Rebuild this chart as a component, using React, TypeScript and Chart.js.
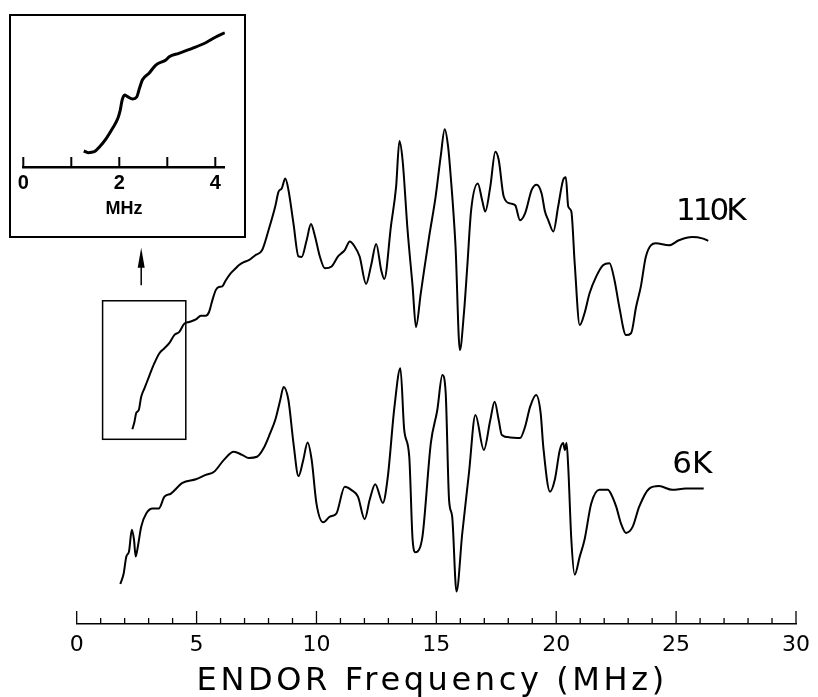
import React, { useEffect, useRef } from 'react';
import { Chart, registerables } from 'chart.js';

Chart.register(...registerables);

// ---- Main spectrum, 110 K (frequency in MHz, ENDOR signal in arb. units) ----
const FREQ_110K = [
  2.32, 2.41, 2.48, 2.59, 2.69, 2.83, 3.04, 3.24, 3.45, 3.66,
  3.86, 4.07, 4.28, 4.48, 4.69, 4.97, 5.18, 5.38, 5.52, 5.66,
  5.80, 5.93, 6.07, 6.22, 6.42, 6.63, 6.76, 6.97, 7.18, 7.45,
  7.73, 8.00, 8.28, 8.42, 8.55, 8.70, 8.83, 9.04, 9.25, 9.38,
  9.59, 9.77, 9.94, 10.14, 10.35, 10.63, 10.90, 11.04, 11.18, 11.39,
  11.59, 11.80, 12.07, 12.28, 12.49, 12.70, 12.83, 13.11, 13.32, 13.46,
  13.59, 13.80, 14.01, 14.15, 14.35, 14.49, 14.70, 14.97, 15.18, 15.35,
  15.49, 15.59, 15.80, 15.98, 16.15, 16.29, 16.45, 16.73, 16.91, 17.04,
  17.25, 17.46, 17.60, 17.81, 18.08, 18.29, 18.49, 18.70, 18.98, 19.18,
  19.39, 19.53, 19.67, 19.88, 20.08, 20.29, 20.40, 20.50, 20.63, 20.77,
  20.98, 21.18, 21.39, 21.67, 21.95, 22.22, 22.43, 22.63, 22.91, 23.12,
  23.33, 23.53, 23.74, 24.15, 24.70, 25.12, 25.67, 26.09, 26.34,
];
const SIG_110K = [
  31.2, 32.4, 33.8, 34.3, 36.4, 37.8, 39.9, 41.8, 43.4, 44.2,
  45.0, 46.3, 46.8, 48.1, 48.4, 48.8, 49.4, 49.4, 50.0, 51.9,
  53.5, 54.0, 54.1, 55.1, 56.2, 57.0, 57.5, 58.0, 58.3, 59.1,
  59.9, 63.1, 66.9, 69.3, 69.8, 71.4, 69.6, 64.2, 58.9, 58.8,
  61.5, 64.1, 62.1, 58.9, 57.0, 57.3, 58.9, 59.4, 59.9, 61.3,
  60.5, 58.9, 54.5, 57.5, 60.9, 56.7, 55.3, 63.9, 70.0, 77.4,
  74.4, 63.1, 54.1, 47.6, 53.0, 56.7, 62.1, 68.5, 74.9, 79.3,
  76.5, 72.2, 60.5, 43.9, 49.8, 57.3, 66.3, 70.6, 67.9, 66.1,
  70.1, 75.7, 74.4, 68.5, 67.4, 67.1, 64.7, 65.8, 69.6, 70.4,
  69.0, 66.1, 64.7, 62.9, 66.9, 71.2, 71.6, 66.9, 66.1, 57.8,
  47.9, 49.8, 53.0, 55.7, 57.5, 57.8, 55.1, 50.8, 46.3, 46.6,
  50.8, 54.1, 58.9, 61.0, 60.7, 61.5, 62.0, 61.8, 61.4,
];

// ---- Main spectrum, 6 K ----
const FREQ_6K = [
  1.82, 1.96, 2.07, 2.18, 2.30, 2.39, 2.46, 2.55, 2.69, 2.90,
  3.17, 3.42, 3.66, 3.93, 4.41, 4.97, 5.38, 5.73, 6.14, 6.55,
  6.90, 7.18, 7.52, 7.80, 8.07, 8.28, 8.49, 8.63, 8.83, 9.04,
  9.25, 9.45, 9.63, 9.80, 10.00, 10.28, 10.56, 10.83, 11.18, 11.45,
  11.73, 12.01, 12.22, 12.45, 12.77, 12.97, 13.25, 13.50, 13.66, 13.87,
  14.01, 14.13, 14.22, 14.42, 14.77, 15.04, 15.25, 15.39, 15.53, 15.66,
  15.84, 16.08, 16.36, 16.63, 16.98, 17.25, 17.43, 17.60, 17.73, 18.08,
  18.49, 18.70, 18.91, 19.16, 19.35, 19.46, 19.74, 19.94, 20.15, 20.29,
  20.36, 20.43, 20.50, 20.63, 20.77, 20.98, 21.18, 21.46, 21.80, 22.15,
  22.29, 22.50, 22.70, 22.91, 23.19, 23.46, 23.88, 24.29, 24.84, 25.40,
  26.15,
];
const SIG_6K = [
  6.4, 8.1, 10.8, 11.6, 15.1, 13.5, 10.8, 12.4, 15.6, 17.7,
  18.5, 18.5, 20.4, 20.9, 22.6, 23.2, 23.9, 24.4, 26.3, 27.6,
  27.1, 26.6, 26.8, 28.2, 30.6, 32.7, 35.9, 38.0, 35.9, 29.0,
  23.7, 26.3, 29.1, 26.3, 19.3, 16.3, 17.2, 17.7, 22.0, 21.5,
  20.4, 16.8, 19.9, 22.4, 19.4, 23.4, 34.7, 41.0, 31.1, 26.8,
  13.5, 11.5, 11.6, 14.0, 29.0, 34.3, 39.9, 37.0, 19.9, 17.2,
  5.2, 14.5, 24.2, 33.5, 27.9, 32.7, 35.6, 32.7, 30.3, 29.9,
  29.8, 31.6, 34.8, 36.7, 33.8, 28.4, 21.2, 23.1, 27.9, 29.0,
  27.9, 29.0, 25.2, 13.5, 7.9, 10.8, 13.5, 19.3, 21.5, 21.5,
  20.8, 18.8, 16.1, 14.6, 15.6, 18.8, 21.7, 22.1, 21.5, 21.7,
  21.7,
];

// ---- Inset: low-frequency part of the 110 K spectrum ----
const FREQ_INSET = [
  1.26, 1.35, 1.48, 1.59, 1.73, 1.86, 1.97, 2.02, 2.06, 2.11,
  2.17, 2.28, 2.36, 2.42, 2.48, 2.62, 2.76, 2.97, 3.04, 3.24,
  3.52, 3.80, 4.00, 4.20,
];
const SIG_INSET = [
  10.6, 9.5, 10.1, 13.4, 19.0, 25.6, 32.3, 37.7, 44.4, 47.7,
  46.6, 45.0, 46.2, 52.1, 57.6, 62.1, 67.5, 70.9, 73.0, 75.3,
  78.6, 82.3, 85.9, 88.9,
];

// ---- Axes / labels ----
const MAIN_TICKS = [
  0, 1, 2, 3, 4, 5, 6, 7, 8, 9, 10, 11, 12, 13, 14, 15,
  16, 17, 18, 19, 20, 21, 22, 23, 24, 25, 26, 27, 28, 29, 30,
];
const MAIN_TICK_LABELS = [0, 5, 10, 15, 20, 25, 30];
const INSET_TICKS = [0, 1, 2, 3, 4];
const INSET_TICK_LABELS = [0, 2, 4];
const SERIES_NAMES = ['110K', '6K'];
const X_TITLE = 'ENDOR Frequency (MHz)';
const INSET_TITLE = 'MHz';

// annotation anchors, in data units (MHz, arb. units)
const NAME_ANCHORS = [
  { x: 25.0, y: 64.7 },
  { x: 24.84, y: 24.2 },
];
const ZOOM_BOX = { x0: 1.08, x1: 4.55, y0: 29.6, y1: 51.8 };
const ARROW = { x: 2.69, y0: 54.3, y1: 60.3 };
const TITLE_SPAN = { x0: 5.0, x1: 24.5 };

const toPoints = (xs: number[], ys: number[]) => xs.map((x, i) => ({ x, y: ys[i] }));

const mainDecor = {
  id: 'mainDecor',
  afterDraw(chart: any) {
    const { ctx, scales } = chart;
    const x = scales.x;
    const y = scales.y;
    const base = chart.chartArea.bottom;
    ctx.save();
    ctx.strokeStyle = '#000';
    ctx.fillStyle = '#000';
    ctx.lineCap = 'butt';

    // tick marks pointing up from the axis line
    ctx.lineWidth = 1.3;
    MAIN_TICKS.forEach((v) => {
      const px = x.getPixelForValue(v);
      const len = MAIN_TICK_LABELS.includes(v) ? 13 : 6;
      ctx.beginPath();
      ctx.moveTo(px, base);
      ctx.lineTo(px, base - len);
      ctx.stroke();
    });

    // box marking the region enlarged in the inset
    ctx.lineWidth = 1.5;
    const bx0 = x.getPixelForValue(ZOOM_BOX.x0);
    const bx1 = x.getPixelForValue(ZOOM_BOX.x1);
    const by0 = y.getPixelForValue(ZOOM_BOX.y0);
    const by1 = y.getPixelForValue(ZOOM_BOX.y1);
    ctx.strokeRect(bx0, by1, bx1 - bx0, by0 - by1);

    // arrow up to the inset
    const ax = x.getPixelForValue(ARROW.x);
    const ay0 = y.getPixelForValue(ARROW.y0);
    const ay1 = y.getPixelForValue(ARROW.y1);
    ctx.lineWidth = 1.5;
    ctx.beginPath();
    ctx.moveTo(ax, ay0);
    ctx.lineTo(ax, ay1 + 12);
    ctx.stroke();
    ctx.beginPath();
    ctx.moveTo(ax, ay1);
    ctx.lineTo(ax - 3.5, ay1 + 20);
    ctx.lineTo(ax + 3.5, ay1 + 20);
    ctx.closePath();
    ctx.fill();

    // series names
    ctx.textAlign = 'left';
    ctx.textBaseline = 'alphabetic';
    ctx.font = '31px "DejaVu Sans"';
    SERIES_NAMES.forEach((name, i) => {
      (ctx as any).letterSpacing = i === 0 ? '-3px' : '0px';
      ctx.fillText(name, x.getPixelForValue(NAME_ANCHORS[i].x), y.getPixelForValue(NAME_ANCHORS[i].y));
    });

    // axis title, spread over its span
    ctx.font = '32px "DejaVu Sans"';
    (ctx as any).letterSpacing = '0px';
    const tx0 = x.getPixelForValue(TITLE_SPAN.x0);
    const tx1 = x.getPixelForValue(TITLE_SPAN.x1);
    const w0 = ctx.measureText(X_TITLE).width;
    const sp = Math.max(0, (tx1 - tx0 - w0) / (X_TITLE.length - 1));
    (ctx as any).letterSpacing = sp + 'px';
    ctx.fillText(X_TITLE, tx0, base + 66);
    ctx.restore();
  },
};

const insetDecor = {
  id: 'insetDecor',
  afterDraw(chart: any) {
    const { ctx, scales } = chart;
    const x = scales.x;
    const base = chart.chartArea.bottom;
    ctx.save();
    ctx.strokeStyle = '#000';
    ctx.lineWidth = 2;
    INSET_TICKS.forEach((v) => {
      const px = x.getPixelForValue(v);
      ctx.beginPath();
      ctx.moveTo(px, base);
      ctx.lineTo(px, base - 10);
      ctx.stroke();
    });
    ctx.restore();
  },
};

export default function App() {
  const mainRef = useRef<HTMLCanvasElement | null>(null);
  const insetRef = useRef<HTMLCanvasElement | null>(null);

  useEffect(() => {
    if (!mainRef.current || !insetRef.current) return;

    const main = new Chart(mainRef.current, {
      type: 'line',
      data: {
        datasets: [
          {
            label: SERIES_NAMES[0],
            data: toPoints(FREQ_110K, SIG_110K),
            borderColor: '#000',
            borderWidth: 2,
            pointRadius: 0,
            fill: false,
            cubicInterpolationMode: 'monotone',
            borderJoinStyle: 'round',
          },
          {
            label: SERIES_NAMES[1],
            data: toPoints(FREQ_6K, SIG_6K),
            borderColor: '#000',
            borderWidth: 2,
            pointRadius: 0,
            fill: false,
            cubicInterpolationMode: 'monotone',
            borderJoinStyle: 'round',
          },
        ],
      },
      options: {
        responsive: false,
        animation: false,
        layout: { padding: { left: 76.7, right: 17, top: 0, bottom: 30.6 } },
        plugins: {
          legend: { display: false },
          tooltip: { enabled: false },
          title: { display: false },
        },
        scales: {
          x: {
            type: 'linear',
            min: 0,
            max: 30,
            afterBuildTicks: (s: any) => {
              s.ticks = MAIN_TICKS.map((v) => ({ value: v }));
            },
            grid: { display: false, drawTicks: false, tickLength: 0 },
            border: { display: true, color: '#000', width: 1.5 },
            ticks: {
              autoSkip: false,
              maxRotation: 0,
              padding: 8,
              color: '#000',
              font: { family: '"DejaVu Sans"', size: 22 },
              callback: (v: any) => (MAIN_TICK_LABELS.includes(Number(v)) ? String(v) : ''),
            },
          },
          y: { type: 'linear', min: 0, max: 100, display: false },
        },
      } as any,
      plugins: [mainDecor],
    });

    const inset = new Chart(insetRef.current, {
      type: 'line',
      data: {
        datasets: [
          {
            label: INSET_TITLE,
            data: toPoints(FREQ_INSET, SIG_INSET),
            borderColor: '#000',
            borderWidth: 3,
            pointRadius: 0,
            fill: false,
            cubicInterpolationMode: 'monotone',
            borderJoinStyle: 'round',
          },
        ],
      },
      options: {
        responsive: false,
        animation: false,
        layout: { padding: { left: 12.3, right: 19.1, top: 0, bottom: 0 } },
        plugins: { legend: { display: false }, tooltip: { enabled: false } },
        scales: {
          x: {
            type: 'linear',
            min: 0,
            max: 4.2,
            afterBuildTicks: (s: any) => {
              s.ticks = INSET_TICKS.map((v) => ({ value: v }));
            },
            grid: { display: false, drawTicks: false, tickLength: 0 },
            border: { display: true, color: '#000', width: 2.5 },
            ticks: {
              autoSkip: false,
              maxRotation: 0,
              padding: 6.5,
              color: '#000',
              font: { family: '"Liberation Sans"', size: 20, weight: 'bold', lineHeight: 1 },
              callback: (v: any) => (INSET_TICK_LABELS.includes(Number(v)) ? String(v) : ''),
            },
            title: {
              display: true,
              text: INSET_TITLE,
              color: '#000',
              font: { family: '"Liberation Sans"', size: 18, weight: 'bold', lineHeight: 1 },
              padding: { top: 0, bottom: 18 },
            },
          },
          y: { type: 'linear', min: 0, max: 100, display: false },
        },
      } as any,
      plugins: [insetDecor],
    });

    return () => {
      main.destroy();
      inset.destroy();
    };
  }, []);

  return (
    <div style={{ position: 'absolute', left: 0, top: 0, width: 818, height: 697, background: '#fff' }}>
      <canvas ref={mainRef} width={818} height={697} style={{ display: 'block', width: 818, height: 697 }} />
      <div
        style={{
          position: 'absolute',
          left: 9,
          top: 14,
          width: 237,
          height: 224,
          border: '2px solid #000',
          boxSizing: 'border-box',
          background: '#fff',
        }}
      >
        <canvas ref={insetRef} width={233} height={220} style={{ display: 'block', width: 233, height: 220 }} />
      </div>
    </div>
  );
}
